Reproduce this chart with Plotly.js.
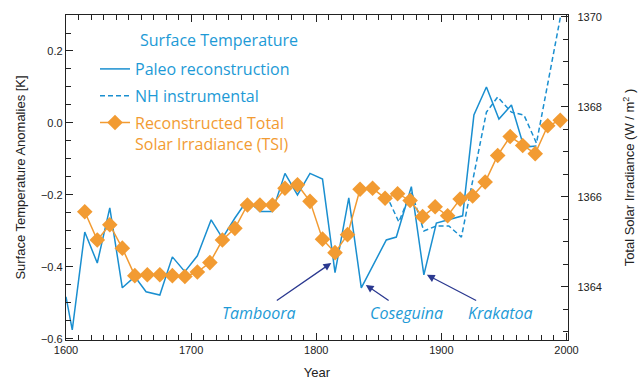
<!DOCTYPE html>
<html>
<head>
<meta charset="utf-8">
<script src="https://cdn.plot.ly/plotly-3.0.1.min.js"></script>
<style>html,body{margin:0;padding:0;background:#fff;}#chart{width:644px;height:387px;}</style>
</head>
<body>
<div id="chart"></div>
<script>
// Paleo reconstruction (surface temperature anomaly, K)
const paleoYears = [1600,1605,1615,1625,1635,1645,1655,1664,1675,1685,1695,1705,1716,1725,1735,1745,1755,1765,1775,1785,1795,1805,1815,1826,1836,1856,1864,1876,1886,1896,1917,1926,1936,1946,1956,1966,1976];
const paleoTemp = [-0.483,-0.575,-0.303,-0.389,-0.236,-0.458,-0.427,-0.469,-0.478,-0.372,-0.413,-0.369,-0.269,-0.32,-0.264,-0.214,-0.246,-0.246,-0.14,-0.2,-0.14,-0.156,-0.416,-0.208,-0.458,-0.325,-0.317,-0.177,-0.422,-0.278,-0.258,0.022,0.1,0.011,0.05,-0.067,-0.064];

// NH instrumental (surface temperature anomaly, K)
const nhYears = [1856,1866,1876,1886,1896,1906,1916,1926,1936,1945,1956,1966,1976,1996];
const nhTemp = [-0.2,-0.275,-0.19,-0.3,-0.286,-0.286,-0.317,-0.14,0.03,0.072,0.03,0.022,-0.056,0.31];

// Reconstructed Total Solar Irradiance (W/m^2)
const tsiYears = [1615,1625,1635,1645,1655,1665,1675,1685,1695,1705,1715,1725,1735,1745,1755,1765,1775,1785,1795,1805,1815,1825,1835,1845,1855,1865,1875,1885,1895,1905,1915,1925,1935,1945,1955,1965,1975,1985,1995];
const tsiValues = [1365.67,1365.04,1365.38,1364.86,1364.25,1364.27,1364.27,1364.25,1364.23,1364.33,1364.54,1365.04,1365.30,1365.82,1365.82,1365.82,1366.19,1366.27,1365.90,1365.06,1364.76,1365.16,1366.17,1366.19,1365.97,1366.07,1365.92,1365.56,1365.78,1365.58,1365.95,1366.02,1366.33,1366.92,1367.34,1367.14,1366.96,1367.58,1367.70];

// Volcanic eruption labels
const volcanoNames = ['Tamboora','Coseguina','Krakatoa'];
const volcanoLabelYears = [1754,1872.5,1947];
const volcanoLabelTemp = -0.528;
const volcanoArrowHeadYears = [1812,1839.6,1888.4];
const volcanoArrowHeadTemps = [-0.389,-0.45,-0.422];

const blue = '#1a8fd0';
const blueText = '#1d9ad6';
const orange = '#f29b32';
const navy = '#2b3990';
const legendFont = 'Open Sans, Noto Sans, sans-serif';
const axisFont = 'Liberation Sans, Arial, sans-serif';

const traces = [
  {x: paleoYears, y: paleoTemp, type: 'scatter', mode: 'lines', name: 'Paleo reconstruction',
   legendgroup: 'a', line: {color: blue, width: 1.5}, yaxis: 'y'},
  {x: nhYears, y: nhTemp, type: 'scatter', mode: 'lines', name: 'NH instrumental',
   legendgroup: 'b', line: {color: blue, width: 1.5, dash: '5px,3px'}, yaxis: 'y'},
  {x: tsiYears, y: tsiValues, type: 'scatter', mode: 'lines+markers',
   name: '<span style="color:' + orange + '">Reconstructed Total<br>Solar Irradiance (TSI)</span>',
   legendgroup: 'c', line: {color: orange, width: 1.5},
   marker: {symbol: 'diamond', size: 12, color: orange}, yaxis: 'y2'}
];

const annotations = [
  {xref: 'paper', yref: 'paper', x: (138-66)/502, y: (340-40)/325, xanchor: 'left', yanchor: 'middle',
   text: 'Surface Temperature', showarrow: false, font: {family: legendFont, size: 16, color: blueText}}
];
for (let i = 0; i < volcanoNames.length; i++) {
  annotations.push({xref: 'x', yref: 'y', axref: 'x', ayref: 'y',
    x: volcanoArrowHeadYears[i], y: volcanoArrowHeadTemps[i],
    ax: volcanoLabelYears[i], ay: volcanoLabelTemp,
    text: '<i>' + volcanoNames[i] + '</i>', showarrow: true,
    arrowhead: 2, arrowsize: 1.2, arrowwidth: 1.3, arrowcolor: navy, standoff: 0,
    font: {family: legendFont, size: 16, color: blueText}});
}

const layout = {
  width: 644, height: 387,
  margin: {l: 66, r: 76, t: 15, b: 47},
  paper_bgcolor: '#fff', plot_bgcolor: '#fff',
  font: {family: axisFont, size: 11, color: '#222'},
  showlegend: true,
  legend: {x: (95-66)/502, y: (340-52)/325, xanchor: 'left', yanchor: 'top', bgcolor: 'rgba(0,0,0,0)',
    font: {family: legendFont, size: 16, color: blueText}, tracegroupgap: 3, valign: 'top', traceorder: 'grouped'},
  xaxis: {range: [1600, 2001.2], dtick: 100, tick0: 1600, ticks: 'inside', ticklen: 7, tickcolor: '#222',
    showline: true, linecolor: '#222', linewidth: 1.2, mirror: 'ticks', showgrid: false, zeroline: false,
    minor: {dtick: 10, ticks: 'inside', ticklen: 5, tickcolor: '#222'},
    title: {text: 'Year', font: {family: axisFont, size: 13, color: '#222'}, standoff: 12},
    tickfont: {family: axisFont, size: 11, color: '#222'}},
  yaxis: {range: [-0.603, 0.3], dtick: 0.2, tick0: 0, tickformat: '.1f', ticks: 'inside', ticklen: 7, tickcolor: '#222',
    showline: true, linecolor: '#222', linewidth: 1.2, showgrid: false, zeroline: false,
    minor: {dtick: 0.05, ticks: 'inside', ticklen: 5, tickcolor: '#222'},
    title: {text: 'Surface Temperature Anomalies [K]', font: {family: axisFont, size: 13, color: '#222'}, standoff: 12},
    tickfont: {family: axisFont, size: 11, color: '#222'}},
  yaxis2: {range: [1362.82, 1370.04], dtick: 2, tick0: 1364, overlaying: 'y', side: 'right', ticks: 'inside', ticklen: 7, tickcolor: '#222',
    showline: true, linecolor: '#222', linewidth: 1.2, showgrid: false, zeroline: false,
    minor: {dtick: 0.5, ticks: 'inside', ticklen: 5, tickcolor: '#222'},
    ticklabelstandoff: 6,
    title: {text: 'Total Solar Irradiance (W / m<sup>2</sup> )', font: {family: axisFont, size: 13, color: '#222'}, standoff: 24},
    tickfont: {family: axisFont, size: 11, color: '#222'}},
  annotations: annotations
};

Plotly.newPlot('chart', traces, layout, {displayModeBar: false, staticPlot: true});
</script>
</body>
</html>
